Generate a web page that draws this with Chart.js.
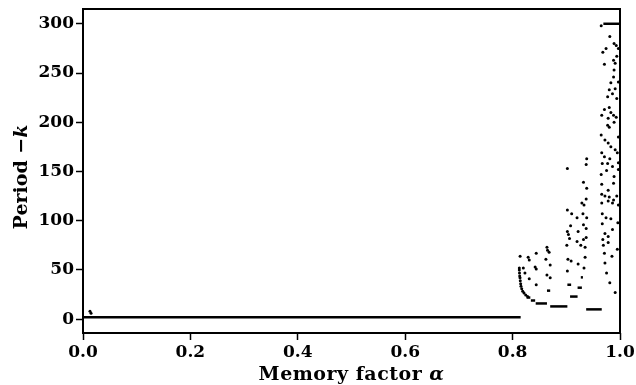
<!DOCTYPE html>
<html>
<head>
<meta charset="utf-8">
<script src="https://cdn.jsdelivr.net/npm/chart.js@4.4.0/dist/chart.umd.min.js"></script>
<style>
  html, body { margin: 0; padding: 0; background: #fff; }
  canvas { display: block; }
</style>
</head>
<body>
<canvas id="chart" width="636" height="385"></canvas>
<script>
// axis ticks
const xTicks = [0, 0.2, 0.4, 0.6, 0.8, 1.0];
const yTicks = [0, 50, 100, 150, 200, 250, 300];

// single scattered points (memory factor, period)
const alphaPts = [
  0.013, 0.015,
  0.8125, 0.8125, 0.8128, 0.8132, 0.8138, 0.8143, 0.815, 0.8156, 0.817, 0.8188, 0.8212, 0.8244, 0.828,
  0.814, 0.829, 0.831, 0.844, 0.864, 0.865, 0.868, 0.862, 0.870, 0.820, 0.842, 0.844, 0.823, 0.864, 0.870, 0.831, 0.844,
  0.901, 0.903, 0.909, 0.922, 0.902, 0.935, 0.933, 0.927, 0.935, 0.971, 0.985, 0.972, 0.975, 0.981, 0.991, 0.995,
  0.965, 0.975, 0.989, 0.997, 0.966, 0.988, 0.932, 0.938, 0.978, 0.966, 0.972, 0.994, 0.929, 0.933, 0.937, 0.966,
  0.978, 0.986, 0.902, 0.910, 0.920, 0.931, 0.938, 0.967, 0.974, 0.983, 0.996, 0.967, 0.908, 0.932, 0.937, 0.902,
  0.904, 0.906, 0.922, 0.932, 0.972, 0.986, 0.968, 0.978, 0.969, 0.920, 0.937, 0.978,
  0.995, 0.980, 0.988, 0.997,
  0.965, 0.981, 0.974, 0.968, 0.989, 0.993, 0.997, 0.988, 0.994, 0.991, 0.971, 0.989, 0.988, 0.997, 0.983, 0.980,
  0.991, 0.977, 0.986, 0.994, 0.980, 0.971, 0.966, 0.983, 0.988, 0.993, 0.978, 0.977, 0.980, 0.989, 0.965, 0.972,
  0.978, 0.983, 0.991, 0.997, 0.938, 0.937, 0.902, 0.966, 0.971, 0.981, 0.967, 0.977, 0.986, 0.997
];
const periodPts = [
  8, 6,
  52, 50, 47, 44, 42, 39, 36, 33.5, 31, 28.5, 26.5, 24.5, 23,
  64, 63, 60, 67, 73, 70, 68, 61, 55, 52, 53, 51, 47, 45, 42, 41, 35,
  75, 61, 59, 56, 49, 63, 52, 75, 73, 67, 64, 57, 47, 37, 27, 71,
  147, 151, 145, 152, 137, 138, 139, 133, 131, 127, 125, 125, 118, 116, 122, 118,
  120, 118, 111, 107, 103, 107, 103, 107, 103, 102, 98, 97, 95, 96, 92, 89,
  86, 82, 89, 81, 87, 91, 81, 78, 75, 79, 83, 84,
  169, 124, 121, 116,
  298, 287, 275, 271, 280, 278, 275, 263, 267, 260, 259, 253, 246, 241, 240, 233,
  234, 226, 229, 224, 215, 213, 207, 210, 207, 205, 204, 197, 195, 200, 187, 182,
  179, 175, 172, 185, 163, 157, 153, 169, 165, 163, 158, 158, 155, 159
];

// plateaus where many points sit on one period value
const segStart  = [0.0,   0.826, 0.834, 0.843, 0.870, 0.907, 0.937, 0.864, 0.902, 0.921, 0.927, 0.969];
const segEnd    = [0.815, 0.833, 0.842, 0.864, 0.902, 0.921, 0.966, 0.870, 0.909, 0.929, 0.931, 1.0];
const segPeriod = [2,     22,    19,    16,    13,    23,    10,    29,    35,    32,    42.5,  300];

const serif = "'DejaVu Serif', 'Liberation Serif', serif";

const segDatasets = segStart.map((s, i) => ({
  type: 'line',
  data: [{ x: s, y: segPeriod[i] }, { x: segEnd[i], y: segPeriod[i] }],
  borderColor: '#000',
  borderWidth: 2.5,
  borderCapStyle: 'butt',
  pointRadius: 0,
  clip: false
}));

const dots = {
  type: 'scatter',
  data: alphaPts.map((a, i) => ({ x: a, y: periodPts[i] })),
  backgroundColor: '#000',
  borderWidth: 0,
  pointRadius: 1.5,
  clip: false
};

// frame + mixed-style axis titles
const frameAndTitles = {
  id: 'frameAndTitles',
  afterDraw(chart) {
    const { ctx, chartArea: a } = chart;
    ctx.save();
    ctx.strokeStyle = '#000';
    ctx.lineWidth = 2;
    ctx.strokeRect(a.left, a.top, a.right - a.left, a.bottom - a.top);

    ctx.fillStyle = '#000';
    ctx.textBaseline = 'alphabetic';
    ctx.letterSpacing = '0.5px';
    const upright = 'bold 19px ' + serif;
    const slanted = 'italic bold 19px ' + serif;

    // x title
    let t1 = 'Memory factor ', t2 = 'α';
    ctx.font = upright; let w1 = ctx.measureText(t1).width;
    ctx.font = slanted; let w2 = ctx.measureText(t2).width;
    let x0 = (a.left + a.right) / 2 - (w1 + w2) / 2;
    ctx.font = upright; ctx.fillText(t1, x0, 380);
    ctx.font = slanted; ctx.fillText(t2, x0 + w1, 380);

    // y title
    ctx.letterSpacing = '0px';
    t1 = 'Period \u2212'; t2 = 'k';
    ctx.font = upright; w1 = ctx.measureText(t1).width;
    ctx.font = slanted; w2 = ctx.measureText(t2).width;
    ctx.translate(27, (a.top + a.bottom) / 2 + 6);
    ctx.rotate(-Math.PI / 2);
    x0 = -(w1 + w2) / 2;
    ctx.font = upright; ctx.fillText(t1, x0, 0);
    ctx.font = slanted; ctx.fillText(t2, x0 + w1, 0);
    ctx.restore();
  }
};

const tickFont = { family: serif, weight: 'bold', size: 17 };
const gridOpts = {
  drawOnChartArea: false,
  drawTicks: true,
  tickLength: 7,
  tickWidth: 1.5,
  tickColor: '#000'
};

new Chart(document.getElementById('chart').getContext('2d'), {
  type: 'scatter',
  data: { datasets: [...segDatasets, dots] },
  options: {
    responsive: false,
    animation: false,
    events: [],
    layout: { padding: { left: 0, top: 9, right: 16, bottom: 0 } },
    plugins: { legend: { display: false }, tooltip: { enabled: false } },
    scales: {
      x: {
        type: 'linear',
        min: 0,
        max: 1,
        afterBuildTicks: s => { s.ticks = xTicks.map(v => ({ value: v })); },
        afterFit: s => { s.height = 52; s.paddingLeft = 0; s.paddingRight = 0; },
        grid: gridOpts,
        border: { display: false },
        ticks: {
          color: '#000',
          font: tickFont,
          padding: 2,
          maxRotation: 0,
          callback: v => Number(v).toFixed(1)
        }
      },
      y: {
        type: 'linear',
        min: -14,
        max: 315,
        afterBuildTicks: s => { s.ticks = yTicks.map(v => ({ value: v })); },
        afterFit: s => { s.width = 83; s.paddingTop = 0; s.paddingBottom = 0; },
        grid: gridOpts,
        border: { display: false },
        ticks: {
          color: '#000',
          font: tickFont,
          padding: 2,
          callback: v => String(v)
        }
      }
    }
  },
  plugins: [frameAndTitles]
});
</script>
</body>
</html>
